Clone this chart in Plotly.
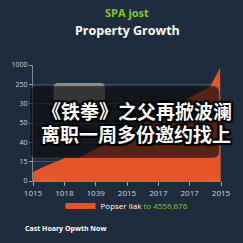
import plotly.graph_objects as go

# Data (in tick-slot units)
x_ticks = [0, 1, 2, 3, 4, 5, 6]
x_labels = ["1015", "1018", "1039", "2015", "2017", "2017", "2015"]
y_ticks = [0, 1, 2, 3, 4, 5, 6]
y_labels = ["0", "15", "40", "50", "30", "250", "1000"]

x_vals = [0, 0.4, 1.03, 1.47, 2.5, 3.5, 4.5, 5.66, 5.97, 5.99]
y_vals = [0.47, 0.78, 1.19, 1.19, 2.1, 2.95, 3.85, 4.9, 5.85, 0]

series_name = "Popser llak"
legend_suffix = "to 4556,676"
title_top = "SPA jost"
title_main = "Property Growth"
footer = "Cast Hoary Opwth Now"
overlay_lines = ["《铁拳》之父再掀波澜", "离职一周多份邀约找上"]

BG = "#1f2c3d"
ORANGE = "#e5562a"
GREEN = "#84c92f"

fig = go.Figure()
fig.add_trace(go.Scatter(
    x=x_vals, y=y_vals, mode="none", fill="tozeroy",
    fillcolor=ORANGE, name=series_name + f" <span style='color:{GREEN}'>{legend_suffix}</span>",
    showlegend=True, hoverinfo="skip"))

W, H = 243, 243
L, R, T, B = 21, 13, 65, 62
pw, ph = W - L - R, H - T - B

def px_x(x):
    return (x - L) / pw

def px_y(y):
    return (H - B - y) / ph

def rounded(x0, y0, x1, y1, r):
    rx = r / pw
    ry = r / ph
    a, b = px_x(x0), px_x(x1)
    top, bot = px_y(y0), px_y(y1)
    return (f"M {a+rx},{top} L {b-rx},{top} Q {b},{top} {b},{top-ry} "
            f"L {b},{bot+ry} Q {b},{bot} {b-rx},{bot} L {a+rx},{bot} "
            f"Q {a},{bot} {a},{bot+ry} L {a},{top-ry} Q {a},{top} {a+rx},{top} Z")

shapes = [
    dict(type="path", xref="paper", yref="paper", path=rounded(44, 83, 101, 118, 5),
         fillcolor="rgba(150,150,150,0.9)", line=dict(width=0), layer="above"),
    dict(type="path", xref="paper", yref="paper", path=rounded(17, 86, 228, 158, 7),
         fillcolor="rgba(10,10,12,0.66)", line=dict(width=0.5, color="rgba(120,120,120,0.5)"), layer="above"),
]

SH = ("2px 2px 1px #000, -2px -2px 1px #000, 2px -2px 1px #000, -2px 2px 1px #000, "
      "0px 2px 1px #000, 0px -2px 1px #000, 2px 0px 1px #000, -2px 0px 1px #000")

annotations = [
    dict(text=f"<b>{title_top}</b>", x=0.5, y=px_y(12), yanchor="middle", xref="paper", yref="paper",
         showarrow=False, font=dict(family="Open Sans", size=11, color=GREEN)),
    dict(text=f"<b>{title_main}</b>", x=0.5, y=px_y(30), yanchor="middle", xref="paper", yref="paper",
         showarrow=False, font=dict(family="Open Sans", size=12.5, color="white")),
    dict(text="Rental", x=px_x(72), y=px_y(94), yanchor="middle", xref="paper", yref="paper",
         showarrow=False, font=dict(family="Open Sans", size=7, color="#333")),
    dict(text=f"<b>{overlay_lines[0]}</b>", x=px_x(137), y=px_y(110), yanchor="middle", xref="paper", yref="paper",
         showarrow=False, font=dict(family="Noto Sans CJK SC", size=19, color="white", shadow=SH)),
    dict(text=f"<b>{overlay_lines[1]}</b>", x=px_x(136), y=px_y(133), yanchor="middle", xref="paper", yref="paper",
         showarrow=False, font=dict(family="Noto Sans CJK SC", size=19, color="white", shadow=SH)),
    dict(text=f"<b>{footer}</b>", x=px_x(10), y=px_y(228), yanchor="middle", xref="paper", yref="paper",
         xanchor="left", showarrow=False, font=dict(family="Open Sans", size=7, color="white")),
]

fig.update_layout(
    width=W, height=H, margin=dict(l=L, r=R, t=T, b=B),
    paper_bgcolor=BG, plot_bgcolor=BG,
    shapes=shapes, annotations=annotations,
    showlegend=True,
    legend=dict(orientation="h", x=0.5, xanchor="center", y=px_y(206), yanchor="middle",
                font=dict(family="Open Sans", size=8, color="white"), bgcolor="rgba(0,0,0,0)",
                itemwidth=30),
    xaxis=dict(range=[0, 6], tickvals=x_ticks, ticktext=x_labels, showgrid=False,
               showline=True, linecolor="#7d8896", ticks="outside", ticklen=4, tickcolor="#9aa4b0",
               tickfont=dict(family="Open Sans", size=8, color="#d0d6dd"), zeroline=False),
    yaxis=dict(range=[0, 6], tickvals=y_ticks, ticktext=y_labels, showgrid=True,
               gridcolor="rgba(140,155,175,0.35)", gridwidth=1,
               showline=True, linecolor="#7d8896", ticks="outside", ticklen=3, tickcolor="#9aa4b0",
               tickfont=dict(family="Open Sans", size=7, color="#d0d6dd"), zeroline=False),
)

fig.write_html("out.html")
